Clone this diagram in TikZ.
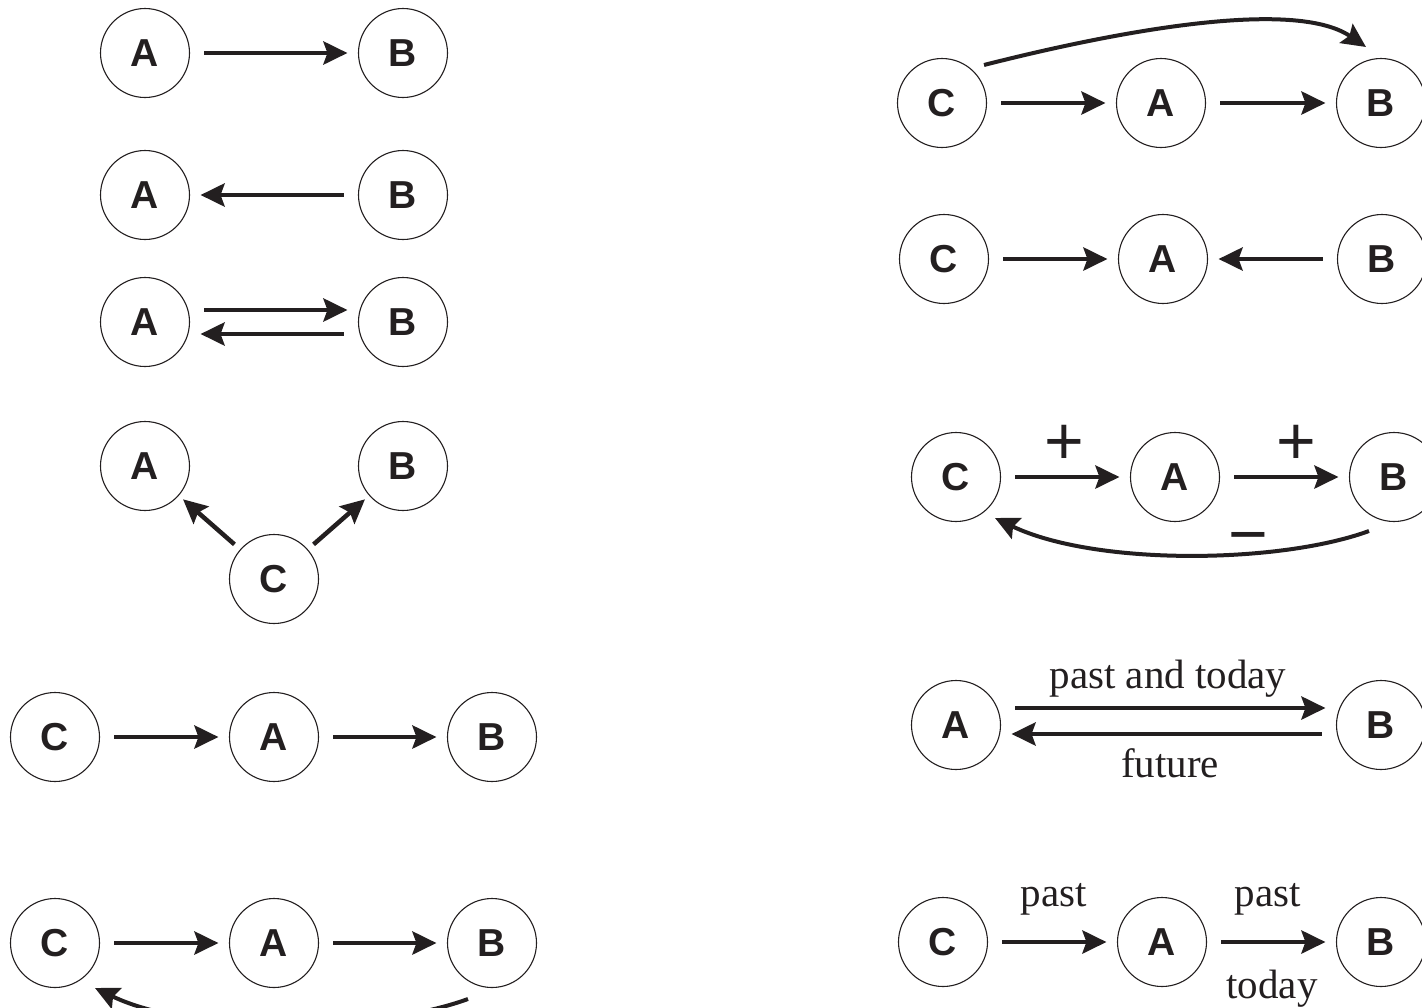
\documentclass[tikz,border=0pt]{standalone}
\usepackage{fontspec}
\setmainfont{Liberation Serif}
\setsansfont{Liberation Sans}
\usetikzlibrary{arrows.meta,calc}
\definecolor{ink}{RGB}{35,31,32}
\begin{document}
\begin{tikzpicture}[x=1pt,y=-1pt,
  nd/.style={circle,draw=ink,line width=1.1pt,minimum size=89pt,inner sep=0pt,text=ink,
    font=\sffamily\bfseries\fontsize{39}{40}\selectfont},
  tipstyle/.style={-{Stealth[length=24pt,width=23pt,inset=4pt]}},
  arr/.style={draw=ink,line width=4.5pt,tipstyle,shorten <=14pt,shorten >=10.5pt},
  carr/.style={draw=ink,line width=4pt,tipstyle},
  lab/.style={text=ink,font=\rmfamily\fontsize{41}{42}\selectfont,inner sep=0pt,anchor=base},
  sgn/.style={text=ink,font=\sffamily\fontsize{68}{68}\selectfont,inner sep=0pt}]
\useasboundingbox (0,0) rectangle (1422,1007);
\clip (0,0) rectangle (1422,1007);

% ---------- left column ----------
% row 1
\node[nd] (a1) at (145,53) {A};
\node[nd] (b1) at (403,53) {B};
\draw[arr] (a1) -- (b1);
% row 2
\node[nd] (a2) at (145,195) {A};
\node[nd] (b2) at (403,195) {B};
\draw[arr] (b2) -- (a2);
% row 3
\node[nd] (a3) at (145,322) {A};
\node[nd] (b3) at (403,322) {B};
\draw[arr] ([yshift=12pt]a3.east) -- ([yshift=12pt]b3.west);
\draw[arr] ([yshift=-12pt]b3.west) -- ([yshift=-12pt]a3.east);
% row 4
\node[nd] (a4) at (145,466) {A};
\node[nd] (b4) at (403,466) {B};
\node[nd] (c4) at (274,579) {C};
\draw[arr,shorten <=7.5pt,shorten >=5.5pt] (c4) -- (a4);
\draw[arr,shorten <=7.5pt,shorten >=5.5pt] (c4) -- (b4);
% row 5
\node[nd] (c5) at (55,737) {C};
\node[nd] (a5) at (274,737) {A};
\node[nd] (b5) at (492,737) {B};
\draw[arr] (c5) -- (a5);
\draw[arr] (a5) -- (b5);
% row 6
\node[nd] (c6) at (55,943) {C};
\node[nd] (a6) at (274,943) {A};
\node[nd] (b6) at (492,943) {B};
\draw[arr] (c6) -- (a6);
\draw[arr] (a6) -- (b6);
\draw[carr] ($(b6)+(-24,56)$) .. controls +(-90,33) and +(100,48) .. ($(c6)+(40,45)$);

% ---------- right column ----------
% row 1
\node[nd] (rc1) at (942,103) {C};
\node[nd] (ra1) at (1161,103) {A};
\node[nd] (rb1) at (1381,103) {B};
\draw[arr] (rc1) -- (ra1);
\draw[arr] (ra1) -- (rb1);
\draw[carr] ($(rc1)+(42,-38)$) .. controls +(106,-27) and +(-76,-52) .. ($(rb1)+(-15,-56)$);
% row 2
\node[nd] (rc2) at (944,259) {C};
\node[nd] (ra2) at (1163,259) {A};
\node[nd] (rb2) at (1382,259) {B};
\draw[arr] (rc2) -- (ra2);
\draw[arr] (rb2) -- (ra2);
% row 3
\node[nd] (rc3) at (956,477) {C};
\node[nd] (ra3) at (1175,477) {A};
\node[nd] (rb3) at (1394,477) {B};
\draw[arr] (rc3) -- (ra3);
\draw[arr] (ra3) -- (rb3);
\draw[carr] ($(rb3)+(-25,54)$) .. controls +(-90,33) and +(100,48) .. ($(rc3)+(39,41)$);
\node[sgn] (p1) at (1064,445) {+};
\node[sgn] (p2) at (1296,445) {+};
\node[sgn] (m1) at (1248,545) {−};
% row 4
\node[nd] (ra4) at (956,725) {A};
\node[nd] (rb4) at (1381,725) {B};
\draw[arr] ([yshift=17pt]ra4.east) -- ([yshift=17pt]rb4.west);
\draw[arr] ([yshift=-9pt]rb4.west) -- ([yshift=-9pt]ra4.east);
\node[lab] (l1) at (1168,688) {past and today};
\node[lab] (l2) at (1170,777) {future};
% row 5
\node[nd] (rc5) at (943,942) {C};
\node[nd] (ra5) at (1162,942) {A};
\node[nd] (rb5) at (1381,942) {B};
\draw[arr] (rc5) -- (ra5);
\draw[arr] (ra5) -- (rb5);
\node[lab] (l3) at (1054,906) {past};
\node[lab] (l4) at (1268,906) {past};
\node[lab] (l5) at (1272,998) {today};
\end{tikzpicture}
\end{document}
